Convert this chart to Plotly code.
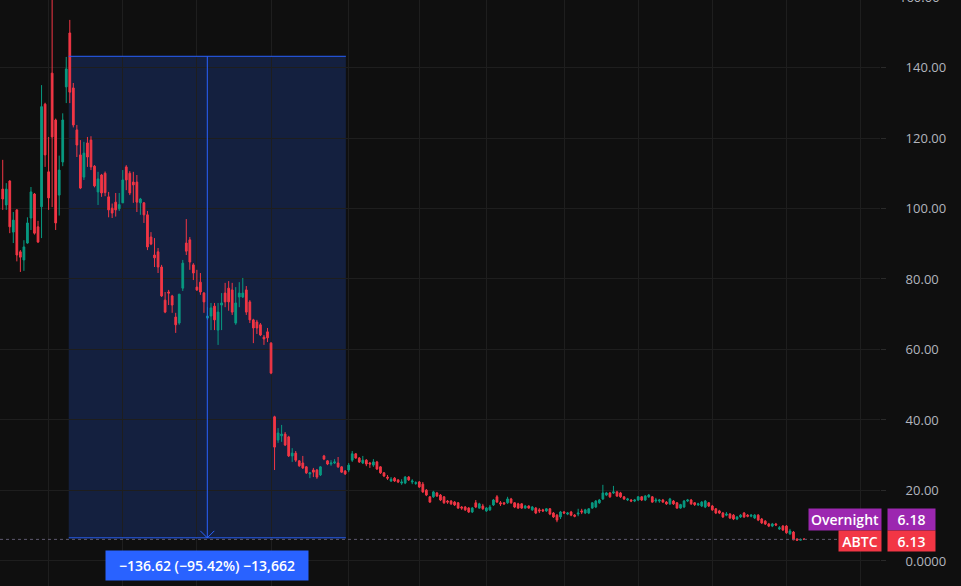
import plotly.graph_objects as go

# ---------------- data (daily candles) ----------------
opens = [105.5,101.0,107.8,93.3,99.6,87.7,85.4,90.2,97.3,104.1,94.8,100.5,129.6,110.4,138.4,125.1,103.8,113.2,134.5,149.8,
         134.2,122.3,115.2,108.9,118.6,119.4,112.0,104.7,109.5,110.0,103.3,100.1,101.8,99.9,101.6,111.8,110.0,107.5,107.5,101.6,
         101.6,98.2,91.9,86.8,87.7,83.4,74.0,76.3,75.2,69.2,67.5,77.4,90.2,91.1,84.0,77.7,79.1,76.0,68.9,69.5,
         72.3,65.5,72.6,76.0,77.4,76.9,67.5,74.9,74.9,76.9,73.5,68.4,67.8,67.0,63.5,65.0,61.8,40.9,34.3,35.5,
         36.0,35.2,29.8,30.6,28.4,27.8,26.7,24.7,25.8,25.8,24.4,29.8,28.4,27.5,27.8,27.8,26.7,25.5,25.8,28.6,
         30.4,29.2,27.8,28.6,27.8,27.2,28.1,26.7,25.0,23.8,22.7,23.5,23.0,22.1,22.1,23.8,22.4,22.0,22.4,21.8,
         20.1,18.2,18.2,19.3,18.7,18.2,17.0,17.0,16.7,16.5,15.3,15.3,15.0,13.9,16.5,15.0,15.6,14.2,14.5,15.9,
         18.2,16.5,16.5,16.5,17.6,16.5,16.2,16.2,15.0,15.6,14.5,15.0,14.5,14.5,14.2,14.8,13.6,13.0,12.5,13.9,
         13.3,13.9,13.0,13.3,14.2,13.6,13.6,15.0,15.3,16.5,17.6,18.7,19.3,19.3,19.6,19.3,18.2,17.3,17.3,17.0,
         17.3,18.2,17.3,18.2,18.2,17.0,17.0,17.3,16.7,16.2,17.0,16.5,15.0,15.3,17.0,17.3,16.5,15.9,15.6,15.3,
         16.5,15.6,14.8,14.2,13.6,13.0,13.3,13.0,11.9,12.5,13.6,13.0,12.7,12.2,13.0,11.9,11.3,10.5,9.9,10.5,
         9.1,9.9,9.9,7.7,8.2,6.2,5.9,6.2]
highs = [113.8,107.2,108.0,99.0,99.8,88.2,91.0,97.5,106.1,104.4,96.5,135.0,130.0,120.3,161.0,125.5,115.0,127.0,143.0,153.5,
         135.6,123.7,119.4,118.9,120.3,120.5,112.3,110.4,109.8,110.5,104.7,101.4,104.4,104.4,110.9,112.3,110.6,110.4,109.5,103.0,
         101.8,99.3,93.3,91.6,88.8,84.0,76.3,76.9,75.5,70.4,75.7,85.4,97.0,91.9,84.5,82.6,81.7,76.3,72.0,73.2,
         73.2,73.2,76.0,78.9,79.4,78.9,77.7,79.1,80.3,78.0,74.0,68.7,68.4,67.5,64.1,66.1,62.1,41.2,37.7,38.6,
         36.6,35.5,32.0,31.2,28.6,29.8,26.9,25.2,26.4,26.1,26.9,30.1,28.6,28.6,28.9,29.5,26.9,25.8,27.8,31.2,
         30.6,29.5,29.8,28.9,28.1,28.9,28.4,26.9,25.2,24.4,23.8,23.8,23.2,23.2,24.1,24.1,23.2,22.6,22.7,22.4,
         20.4,18.4,19.9,19.6,19.0,18.4,17.3,17.3,17.0,16.7,15.6,15.6,15.3,15.3,17.3,16.5,16.2,15.3,15.9,17.6,
         18.7,17.0,16.7,18.2,17.9,16.7,16.5,16.4,15.9,15.8,15.6,15.3,15.0,14.8,15.0,15.0,13.9,13.3,14.2,14.2,
         13.9,14.2,13.3,14.8,14.8,14.8,15.0,16.7,17.3,17.6,21.6,19.6,19.6,21.3,19.9,19.6,18.4,17.9,17.6,17.6,
         18.4,18.4,18.7,19.0,18.4,17.9,17.6,17.6,17.0,17.9,17.3,16.7,16.2,17.3,17.6,17.6,16.7,16.5,17.0,17.3,
         16.7,15.9,15.0,14.5,13.9,13.9,13.6,13.3,12.7,13.3,13.9,13.3,13.3,13.3,13.3,12.2,11.6,10.8,10.8,10.8,
         9.9,10.2,10.2,9.1,8.5,6.5,6.4,6.5]
lows = [99.6,99.6,93.0,90.2,85.0,82.0,82.3,90.0,93.9,92.6,90.2,91.6,111.8,99.6,100.4,93.9,98.0,112.0,129.9,129.9,
        123.0,114.6,105.5,108.1,111.8,110.9,106.0,101.0,103.3,103.5,97.5,97.3,97.7,99.3,101.6,105.2,103.8,101.6,99.0,98.2,
        95.9,88.2,89.6,83.4,81.7,74.9,70.3,72.6,70.4,64.7,67.0,76.6,86.8,82.6,79.7,76.6,75.5,70.4,68.4,65.5,
        65.5,61.3,65.5,72.0,71.0,69.8,67.0,72.0,74.6,69.8,67.5,61.8,64.4,63.8,61.3,62.1,53.0,25.8,33.5,33.8,
        32.6,29.5,28.1,28.1,26.7,26.1,24.7,23.5,23.8,23.3,24.1,28.6,27.2,27.0,27.5,26.4,25.0,24.4,25.2,28.1,
        29.0,27.8,27.5,26.9,26.4,26.7,25.8,24.7,23.8,23.0,22.4,22.4,22.1,21.6,21.8,22.7,21.8,21.6,20.7,19.3,
        18.4,16.5,17.9,18.2,17.0,16.2,16.2,15.9,15.6,14.8,14.5,14.2,13.6,13.6,15.0,14.8,14.5,13.9,14.2,15.6,
        16.5,15.6,15.9,16.2,16.2,15.0,14.8,14.8,14.8,14.8,14.2,13.3,13.6,13.9,13.9,13.0,12.2,11.0,11.9,13.3,
        13.0,12.7,12.4,12.7,13.3,13.3,13.3,14.8,15.0,16.2,17.3,18.4,17.9,19.0,18.2,17.9,17.3,17.0,16.7,16.7,
        17.0,17.0,17.0,17.9,16.5,16.5,16.5,16.5,15.9,15.9,15.9,14.8,14.8,15.0,16.7,15.9,15.6,15.6,15.3,15.0,
        15.3,14.2,13.3,13.3,12.2,12.7,11.9,11.6,11.6,12.2,12.2,12.4,12.4,11.9,11.3,10.5,10.2,9.6,9.6,9.9,
        8.8,8.5,7.7,7.4,5.9,5.7,5.8,6.0]
closes = [102.7,105.5,94.8,96.7,86.8,86.2,89.1,95.9,104.7,93.0,90.5,128.9,115.2,103.0,120.3,95.9,110.9,125.1,139.6,133.0,
          123.7,118.0,105.8,115.7,114.6,111.8,106.4,108.4,104.4,104.5,99.6,98.7,99.6,101.1,108.1,108.1,104.4,106.7,101.8,102.7,
          98.2,89.1,89.9,86.0,83.4,75.2,70.6,76.0,72.6,67.0,75.7,84.5,87.9,84.8,81.7,76.9,76.3,73.5,69.5,71.8,
          68.4,70.6,73.2,73.5,73.5,70.6,73.2,76.0,76.0,70.6,68.4,66.1,66.1,64.1,63.0,63.3,53.3,32.3,36.3,36.0,
          32.9,29.8,30.6,28.6,27.0,26.4,25.0,25.0,25.2,23.8,26.7,28.9,27.5,27.8,28.1,26.7,25.2,24.7,27.2,30.4,
          29.2,28.1,28.6,27.5,27.5,28.1,26.1,25.0,24.1,23.5,23.2,22.7,22.4,22.4,23.8,23.0,22.7,22.2,21.0,19.6,
          18.7,16.7,19.6,18.4,17.3,16.5,16.7,16.2,15.9,15.0,15.0,14.5,13.9,15.0,15.3,16.2,14.8,15.0,15.3,17.3,
          16.7,16.2,16.2,17.6,16.5,15.3,15.0,15.0,15.6,15.0,15.3,13.6,14.2,14.2,14.8,13.3,12.5,11.6,13.9,13.6,
          13.6,13.0,12.7,13.6,13.9,14.5,14.8,16.5,17.0,17.3,19.3,19.3,18.2,19.6,18.4,18.2,17.6,17.6,17.0,17.3,
          18.2,17.3,18.4,18.7,16.7,17.3,17.3,16.7,16.2,17.6,16.2,15.0,16.0,17.0,17.3,16.2,16.0,16.2,16.7,17.0,
          15.6,14.5,13.6,13.6,12.5,13.3,12.2,11.9,12.5,13.0,12.5,12.7,13.0,13.0,11.6,10.8,10.5,9.9,10.5,10.2,
          9.4,8.8,8.0,8.5,6.0,5.9,6.1,6.13]

bars = list(range(len(opens)))            # daily bar index
month_starts = [13, 34, 55, 76, 98, 118, 137, 159, 180, 201, 222, 243]   # first bar of each month
price_ticks = [0, 20, 40, 60, 80, 100, 120, 140]
price_tick_text = ["0.0000", "20.00", "40.00", "60.00", "80.00", "100.00", "120.00", "140.00"]
top_tick_text = "160.00"

# price-range measurement drawing
range_start_bar, range_end_bar = 18.7, 97.2
range_top, range_bottom = 143.18, 6.56
last_price, overnight_price = 6.13, 6.18
symbol = "ABTC"

UP, DOWN = "#089981", "#F23645"
BG = "#0F0F0F"
GRID = "#1E1E1E"
BLUE = "#2962FF"
TXT = "#B2B5BE"
FONT = "Open Sans"

fig = go.Figure()
fig.add_trace(go.Candlestick(
    x=bars, open=opens, high=highs, low=lows, close=closes,
    increasing=dict(line=dict(color=UP, width=1), fillcolor=UP),
    decreasing=dict(line=dict(color=DOWN, width=1), fillcolor=DOWN),
    whiskerwidth=0, showlegend=False, hoverinfo="skip",
))

mid_bar = (range_start_bar + range_end_bar) / 2
diff = range_bottom - range_top
pct = diff / range_top * 100
ticks_count = round(diff / 0.01)
label = f"\u2212{abs(diff):.2f} (\u2212{abs(pct):.2f}%) \u2212{abs(ticks_count):,}"

shapes = [
    dict(type="rect", xref="x", yref="y", x0=range_start_bar, x1=range_end_bar, y0=range_bottom, y1=range_top,
         fillcolor="rgba(41,98,255,0.2)", line=dict(width=0), layer="below"),
    dict(type="line", xref="x", yref="y", x0=range_start_bar, x1=range_end_bar, y0=range_top, y1=range_top,
         line=dict(color=BLUE, width=1)),
    dict(type="line", xref="x", yref="y", x0=range_start_bar, x1=range_end_bar, y0=range_bottom, y1=range_bottom,
         line=dict(color=BLUE, width=1)),
    dict(type="line", xref="x", yref="y", x0=mid_bar, x1=mid_bar, y0=range_top, y1=range_bottom,
         line=dict(color=BLUE, width=1)),
    dict(type="path", xref="x", yref="y", xsizemode="pixel", ysizemode="pixel",
         xanchor=mid_bar, yanchor=range_bottom, path="M-7,7 L0,0 L7,7",
         line=dict(color=BLUE, width=1)),
    dict(type="line", xref="paper", yref="y", x0=0, x1=1, y0=last_price, y1=last_price,
         line=dict(color="#5E5A70", width=1, dash="dot")),
]

lab_font = dict(family=FONT, size=14, color="white", weight=600)
annotations = [
    dict(x=mid_bar, y=range_bottom, xref="x", yref="y", yshift=-28, text=label, showarrow=False,
         font=lab_font, bgcolor=BLUE, width=202, height=29,
         borderpad=0, xanchor="center", yanchor="middle"),
    dict(x=1, y=overnight_price, xref="paper", yref="y", xanchor="right", yanchor="middle", xshift=2,
         yshift=20, text="Overnight", showarrow=False, bgcolor="#9C27B0", width=72, height=21, borderpad=0,
         font=lab_font),
    dict(x=1, y=overnight_price, xref="paper", yref="y", xanchor="left", yanchor="middle", xshift=7,
         yshift=20, text=f"{overnight_price:.2f}", showarrow=False, bgcolor="#9C27B0", width=47, height=21,
         borderpad=0, font=lab_font),
    dict(x=1, y=last_price, xref="paper", yref="y", xanchor="right", yanchor="middle", xshift=2,
         yshift=-2, text=symbol, showarrow=False, bgcolor=DOWN, width=42, height=20, borderpad=0,
         font=lab_font),
    dict(x=1, y=last_price, xref="paper", yref="y", xanchor="left", yanchor="middle", xshift=7,
         yshift=-2, text=f"{last_price:.2f}", showarrow=False, bgcolor=DOWN, width=47, height=20,
         borderpad=0, font=lab_font),
    dict(x=1, y=1, xref="paper", yref="paper", xanchor="left", yanchor="middle", xshift=17, yshift=3,
         text=top_tick_text, showarrow=False, font=dict(family=FONT, size=13, color=TXT)),
]

fig.update_layout(
    width=961, height=586,
    margin=dict(l=0, r=81, t=0, b=0),
    paper_bgcolor=BG, plot_bgcolor=BG,
    shapes=shapes, annotations=annotations,
    showlegend=False,
    xaxis=dict(range=[-0.77, 248.5], rangeslider=dict(visible=False), tickvals=month_starts,
               showticklabels=False, ticks="", showgrid=True, gridcolor=GRID, gridwidth=1,
               zeroline=False, showline=False),
    yaxis=dict(range=[-7.1, 159.15], side="right", tickvals=price_ticks, ticktext=price_tick_text,
               showgrid=True, gridcolor=GRID, gridwidth=1, zeroline=False, showline=False,
               ticks="outside", ticklen=5, tickcolor="#2A2A2A", ticklabelstandoff=17,
               tickfont=dict(family=FONT, size=13, color=TXT)),
)

fig.write_html("out.html")
